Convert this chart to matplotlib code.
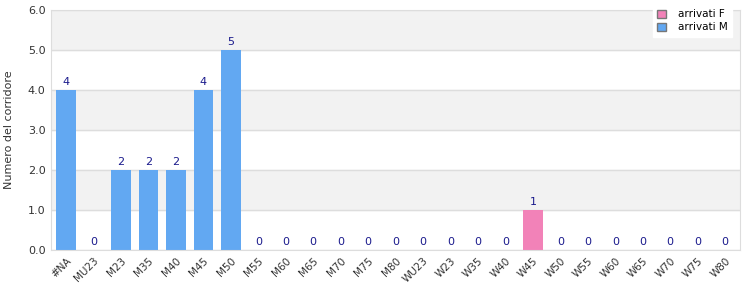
import numpy as np
import matplotlib.pyplot as plt
from matplotlib.patches import Patch

categories = ['#NA', 'MU23', 'M23', 'M35', 'M40', 'M45', 'M50', 'M55', 'M60', 'M65',
              'M70', 'M75', 'M80', 'WU23', 'W23', 'W35', 'W40', 'W45', 'W50', 'W55',
              'W60', 'W65', 'W70', 'W75', 'W80']
arrivati_m = [4, 0, 2, 2, 2, 4, 5, 0, 0, 0, 0, 0, 0, 0, 0, 0, 0, 0, 0, 0, 0, 0, 0, 0, 0]
arrivati_f = [0, 0, 0, 0, 0, 0, 0, 0, 0, 0, 0, 0, 0, 0, 0, 0, 0, 1, 0, 0, 0, 0, 0, 0, 0]

col_m = '#62a8f2'
col_f = '#f282b8'

fig = plt.figure(figsize=(7.5, 3), dpi=100)
ax = fig.add_axes([0.068, 0.167, 0.919, 0.80])

x = np.arange(len(categories))
m = np.array(arrivati_m)
f = np.array(arrivati_f)

# alternating bands
for i in range(6):
    if i % 2 == 1:
        ax.axhspan(i, i + 1, color='#f2f2f2', zorder=0)
ax.yaxis.grid(True, color='#dddddd', lw=1, zorder=1)

ax.bar(x, m, width=0.72, color=col_m, zorder=2)
ax.bar(x, f, width=0.72, bottom=m, color=col_f, zorder=2)

tot = m + f
for xi, t in zip(x, tot):
    ax.text(xi, t + 0.08, str(t), ha='center', va='bottom', fontsize=8, color='#1a1a8c')

ax.set_xlim(-0.55, len(categories) - 0.45)
ax.set_ylim(0, 6)
ax.set_yticks(range(7))
ax.set_yticklabels(['%.1f' % v for v in range(7)], fontsize=8, color='#333333')
ax.set_xticks(x)
ax.set_xticklabels(categories, rotation=45, ha='right', rotation_mode='anchor',
                   fontsize=7.5, color='#333333')
ax.tick_params(length=0, pad=4)
ax.set_ylabel('Numero del corridore', fontsize=8, color='#333333', labelpad=10)
for s in ax.spines.values():
    s.set_color('#dddddd')

handles = [Patch(facecolor=col_f, edgecolor='#777777', label='arrivati F'),
           Patch(facecolor=col_m, edgecolor='#777777', label='arrivati M')]
leg = fig.legend(handles=handles, loc='upper right', bbox_to_anchor=(0.983, 1.0),
                 fontsize=7.5, frameon=True, fancybox=False, handlelength=0.8,
                 handleheight=0.8, labelspacing=0.3, borderpad=0.4, handletextpad=1.2)
leg.get_frame().set_edgecolor('white')
leg.get_frame().set_alpha(1)

plt.savefig('out.png', dpi=100)
